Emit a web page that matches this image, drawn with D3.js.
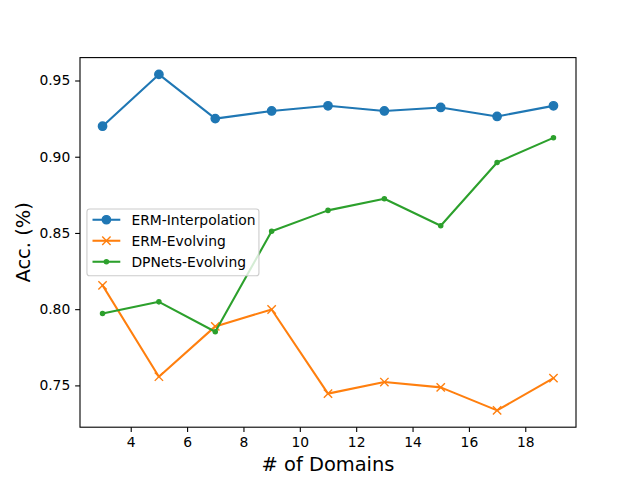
<!DOCTYPE html>
<html>
<head>
<meta charset="utf-8">
<script src="https://cdn.jsdelivr.net/npm/d3@7"></script>
<style>
  html, body { margin: 0; padding: 0; background: #fff; }
  svg { display: block; }
  text { font-family: "DejaVu Sans", sans-serif; fill: #000; }
</style>
</head>
<body>
<svg id="chart" width="640" height="480"></svg>
<script>
const domains = [3, 5, 7, 9, 11, 13, 15, 17, 19];
const ermInterpolation = [0.920, 0.954, 0.925, 0.930, 0.9334, 0.930, 0.9323, 0.9264, 0.9334];
const ermEvolving = [0.8156, 0.7557, 0.7887, 0.7998, 0.7446, 0.7522, 0.7487, 0.7336, 0.7548];
const dpnetsEvolving = [0.7972, 0.8048, 0.7852, 0.8511, 0.8648, 0.8724, 0.8547, 0.8962, 0.9124];
const xTicks = [4, 6, 8, 10, 12, 14, 16, 18];
const yTicks = [0.75, 0.80, 0.85, 0.90, 0.95];
const seriesNames = ["ERM-Interpolation", "ERM-Evolving", "DPNets-Evolving"];
const seriesColors = ["#1f77b4", "#ff7f0e", "#2ca02c"];
const seriesMarkers = ["circle", "x", "point"];
const xLabel = "# of Domains";
const yLabel = "Acc. (%)";

const series = [ermInterpolation, ermEvolving, dpnetsEvolving].map((vals, i) => ({
  name: seriesNames[i], color: seriesColors[i], marker: seriesMarkers[i],
  points: vals.map((v, j) => ({ x: domains[j], y: v }))
}));

const svg = d3.select("#chart");
const L = 80, R = 576, T = 57.6, B = 427.2;

// matplotlib-like auto limits with 5% margins
const xmin = d3.min(domains), xmax = d3.max(domains);
const xpad = (xmax - xmin) * 0.05;
const allY = [].concat(ermInterpolation, ermEvolving, dpnetsEvolving);
const ymin = d3.min(allY), ymax = d3.max(allY);
const ypad = (ymax - ymin) * 0.05;

const x = d3.scaleLinear().domain([xmin - xpad, xmax + xpad]).range([L, R]);
const y = d3.scaleLinear().domain([ymin - ypad, ymax + ypad]).range([B, T]);

const tickLen = 4.86;
const fs = 13.89;

// x axis
const xAxis = d3.axisBottom(x).tickValues(xTicks).tickSize(tickLen).tickPadding(4.86).tickFormat(d3.format("d"));
const gx = svg.append("g").attr("transform", `translate(0,${B})`).call(xAxis);
gx.select(".domain").remove();
gx.selectAll("line").attr("stroke", "#000").attr("stroke-width", 1.1);
gx.selectAll("text").attr("font-size", fs).attr("font-family", "DejaVu Sans").attr("fill", "#000");

// y axis
const yAxis = d3.axisLeft(y).tickValues(yTicks).tickSize(tickLen).tickPadding(4.86).tickFormat(d3.format(".2f"));
const gy = svg.append("g").attr("transform", `translate(${L},0)`).call(yAxis);
gy.select(".domain").remove();
gy.selectAll("line").attr("stroke", "#000").attr("stroke-width", 1.1);
gy.selectAll("text").attr("font-size", fs).attr("font-family", "DejaVu Sans").attr("fill", "#000");

// clip
svg.append("defs").append("clipPath").attr("id", "clip")
  .append("rect").attr("x", L).attr("y", T).attr("width", R - L).attr("height", B - T);

const line = d3.line().x(d => x(d.x)).y(d => y(d.y));
const plot = svg.append("g");

series.forEach(s => {
  const g = plot.append("g");
  g.append("path").datum(s.points).attr("d", line)
    .attr("fill", "none").attr("stroke", s.color).attr("stroke-width", 2.08)
    .attr("stroke-linejoin", "round").attr("stroke-linecap", "square");
  drawMarkers(g, s.points.map(p => [x(p.x), y(p.y)]), s.marker, s.color);
});

function drawMarkers(g, pts, marker, color) {
  pts.forEach(([px, py]) => drawMarker(g, px, py, marker, color));
}
function drawMarker(g, px, py, marker, color) {
  if (marker === "circle") {
    g.append("circle").attr("cx", px).attr("cy", py).attr("r", 4.17).attr("fill", color).attr("stroke", color).attr("stroke-width", 1.39);
  } else if (marker === "point") {
    g.append("circle").attr("cx", px).attr("cy", py).attr("r", 2.08).attr("fill", color).attr("stroke", color).attr("stroke-width", 1.39);
  } else if (marker === "x") {
    const r = 4.17;
    g.append("path").attr("d", `M${px - r},${py - r}L${px + r},${py + r}M${px - r},${py + r}L${px + r},${py - r}`)
      .attr("stroke", color).attr("stroke-width", 1.39).attr("fill", "none");
  }
}

// frame
svg.append("rect").attr("x", L).attr("y", T).attr("width", R - L).attr("height", B - T)
  .attr("fill", "none").attr("stroke", "#000").attr("stroke-width", 1.1);

// labels
svg.append("text").attr("x", (L + R) / 2).attr("y", 471).attr("text-anchor", "middle")
  .attr("font-size", 19.44).text(xLabel);
svg.append("text").attr("transform", `translate(29.5,${(T + B) / 2}) rotate(-90)`).attr("text-anchor", "middle")
  .attr("font-size", 19.44).text(yLabel);

// legend (center left)
const pad = 5.56, handleLen = 27.8, handlePad = 11.1, rowH = 20.8;
const lg = svg.append("g");
const lgX = L + 6.94;
const lgW = 172;
const lgH = pad * 2 + rowH * 3 - 6.94 + 13.89 * 0.3;
const lgH2 = 66.7;
const lgY = (T + B) / 2 - lgH2 / 2;
lg.append("rect").attr("x", lgX).attr("y", lgY).attr("width", lgW).attr("height", lgH2)
  .attr("rx", 2.8).attr("fill", "#fff").attr("fill-opacity", 0.8).attr("stroke", "#cccccc").attr("stroke-width", 1.1);
series.forEach((s, i) => {
  const cy = lgY + 10.7 + i * 21.0;
  const hx0 = lgX + pad, hx1 = hx0 + handleLen;
  lg.append("line").attr("x1", hx0).attr("x2", hx1).attr("y1", cy).attr("y2", cy)
    .attr("stroke", s.color).attr("stroke-width", 2.08);
  drawMarker(lg, (hx0 + hx1) / 2, cy, s.marker, s.color);
  lg.append("text").attr("x", hx1 + handlePad).attr("y", cy).attr("dy", "0.36em")
    .attr("font-size", fs).text(s.name);
});
</script>
</body>
</html>
